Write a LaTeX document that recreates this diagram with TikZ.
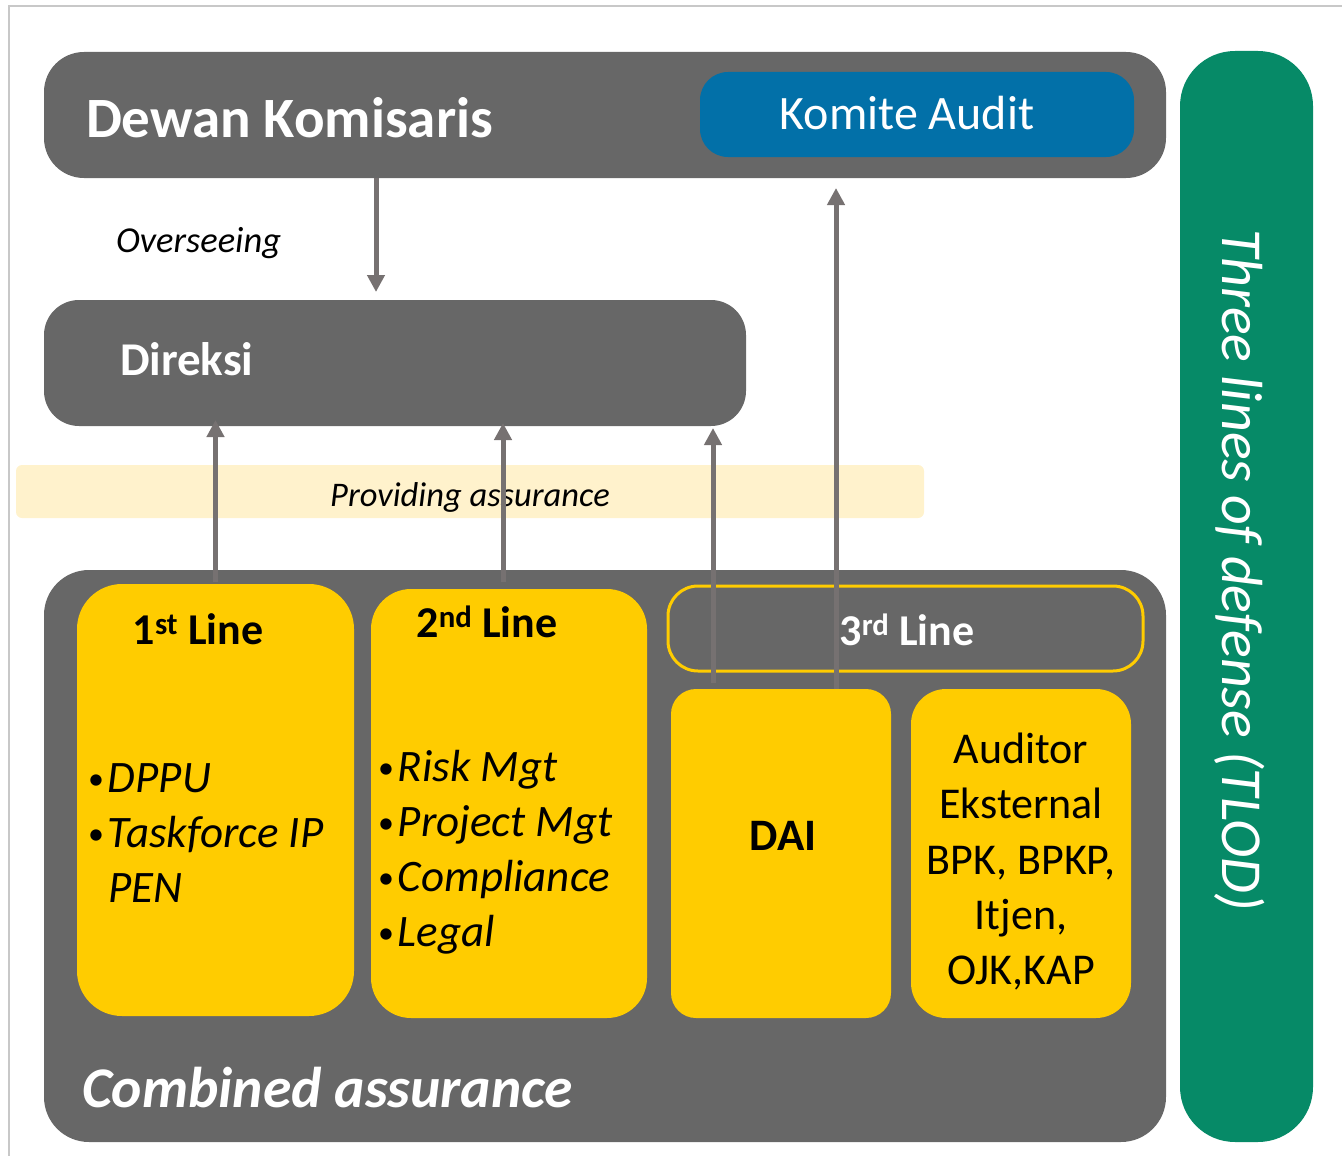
\documentclass[tikz,border=0pt]{standalone}
\usepackage{fontspec}
\setmainfont{Carlito}
\usetikzlibrary{arrows.meta}
\definecolor{boxgray}{HTML}{676767}
\definecolor{arrgray}{HTML}{767171}
\definecolor{ylw}{HTML}{FFCC00}
\definecolor{kblue}{HTML}{0270A8}
\definecolor{tgreen}{HTML}{068A67}
\definecolor{band}{HTML}{FFF2CC}
\definecolor{frame}{HTML}{C8C8C8}
\newcommand{\fs}[1]{\fontsize{#1}{#1}\selectfont}
\newcommand{\bul}{{\fs{32}\raisebox{3pt}{\textbullet}}\kern4pt}
\tikzset{
  panel/.style={draw=none, inner sep=0pt, outer sep=0pt, anchor=north west},
  arr/.style={draw=arrgray, line width=5pt, -{Triangle[width=17pt,length=17pt]}},
  txt/.style={inner sep=0pt, outer sep=0pt},
}
\begin{document}
\begin{tikzpicture}[x=1pt,y=-1pt]
\useasboundingbox (0,0) rectangle (1342,1156);
% frame
\draw[frame, line width=2pt] (9,1156) -- (9,6) -- (1342,6);
% band
\node[panel, fill=band, rounded corners=6pt, minimum width=908pt, minimum height=53pt] (band) at (16,465) {};
% boxes
\node[panel, fill=boxgray, rounded corners=40pt, minimum width=1122pt, minimum height=126pt] (dewan) at (44,52) {};
\node[panel, fill=kblue, rounded corners=28pt, minimum width=434pt, minimum height=85pt] (komite) at (700,72) {};
\node[panel, fill=boxgray, rounded corners=35pt, minimum width=702pt, minimum height=126pt] (direksi) at (44,300) {};
\node[panel, fill=boxgray, rounded corners=45pt, minimum width=1122pt, minimum height=572pt] (comb) at (44,570) {};
\node[panel, fill=ylw, rounded corners=45pt, minimum width=277pt, minimum height=432pt] (l1) at (77,584) {};
\node[panel, fill=ylw, rounded corners=40pt, minimum width=276pt, minimum height=429pt] (l2) at (371,589) {};
\node[panel, fill=boxgray, draw=ylw, line width=3pt, rounded corners=30pt, minimum width=475pt, minimum height=85pt] (l3) at (668,586) {};
\node[panel, fill=ylw, rounded corners=25pt, minimum width=220pt, minimum height=329pt] (dai) at (671,689) {};
\node[panel, fill=ylw, rounded corners=35pt, minimum width=220pt, minimum height=329pt] (aud) at (911,689) {};
\node[panel, fill=tgreen, rounded corners=55pt, minimum width=133pt, minimum height=1091pt] (tlod) at (1180,51) {};
% texts
\node[txt, anchor=base west, text=white] (tdewan) at (86,137) {\fs{57}\bfseries Dewan Komisaris};
\node[txt, text=white] (tkomite) at (907,113) {\fs{48}Komite Audit};
\node[txt, anchor=base west] (tover) at (116,252) {\fs{36.5}\itshape Overseeing};
\node[txt, anchor=base west, text=white] (tdireksi) at (120,375) {\fs{47}\bfseries Direksi};
\node[txt] (tprov) at (470,497) {\fs{34.5}\itshape Providing assurance};
\node[txt, anchor=base] (t1) at (198,644) {\fs{44}\bfseries 1\textsuperscript{st} Line};
\node[txt, anchor=base] (t2) at (487,637) {\fs{44}\bfseries 2\textsuperscript{nd} Line};
\node[txt, anchor=base, text=white] (t3) at (907,645) {\fs{44}\bfseries 3\textsuperscript{rd} Line};
\node[txt, anchor=base west] (b11) at (88,792) {\fs{45}\bul\textit{DPPU}};
\node[txt, anchor=base west] (b12) at (88,847) {\fs{45}\bul\textit{Taskforce IP}};
\node[txt, anchor=base west] (b13) at (108,902) {\fs{45}\textit{PEN}};
\node[txt, anchor=base west] (b21) at (378,781) {\fs{45}\bul\textit{Risk Mgt}};
\node[txt, anchor=base west] (b22) at (378,836) {\fs{45}\bul\textit{Project Mgt}};
\node[txt, anchor=base west] (b23) at (378,891) {\fs{45}\bul\textit{Compliance}};
\node[txt, anchor=base west] (b24) at (378,946) {\fs{45}\bul\textit{Legal}};
\node[txt] (tdai) at (783,836) {\fs{45}\bfseries DAI};
\node[txt, anchor=base] (a1) at (1021,763) {\fs{44}Auditor};
\node[txt, anchor=base] (a2) at (1021,818) {\fs{44}Eksternal};
\node[txt, anchor=base] (a3) at (1021,874) {\fs{44}BPK, BPKP,};
\node[txt, anchor=base] (a4) at (1021,929) {\fs{44}Itjen,};
\node[txt, anchor=base] (a5) at (1021,984) {\fs{44}OJK,KAP};
\node[txt, anchor=base west, text=white] (tcomb) at (82,1107) {\fs{57.5}\bfseries\itshape Combined assurance};
\node[txt, rotate=-90, text=white] (ttlod) at (1240,570) {\fs{58}\itshape Three lines of defense (TLOD)};
% arrows
\coordinate (d1) at (376,178);
\draw[arr] (dewan.south west -| d1) -- ([yshift=8pt]direksi.north west -| d1);
\draw[arr] (l1.north) ++(0,-2) -- ([yshift=6pt]direksi.south -| l1.north);
\coordinate (c2) at (503,0);
\draw[arr] (l2.north -| c2) ++(0,-7) -- ([yshift=3pt]direksi.south -| c2);
\coordinate (c3) at (713,0);
\draw[arr] (dai.north -| c3) ++(0,-6) -- ([yshift=-2pt]direksi.south -| c3);
\coordinate (c4) at (836,0);
\draw[arr] (dai.north -| c4) -- ([yshift=-10pt]dewan.south -| c4);
\end{tikzpicture}
\end{document}
